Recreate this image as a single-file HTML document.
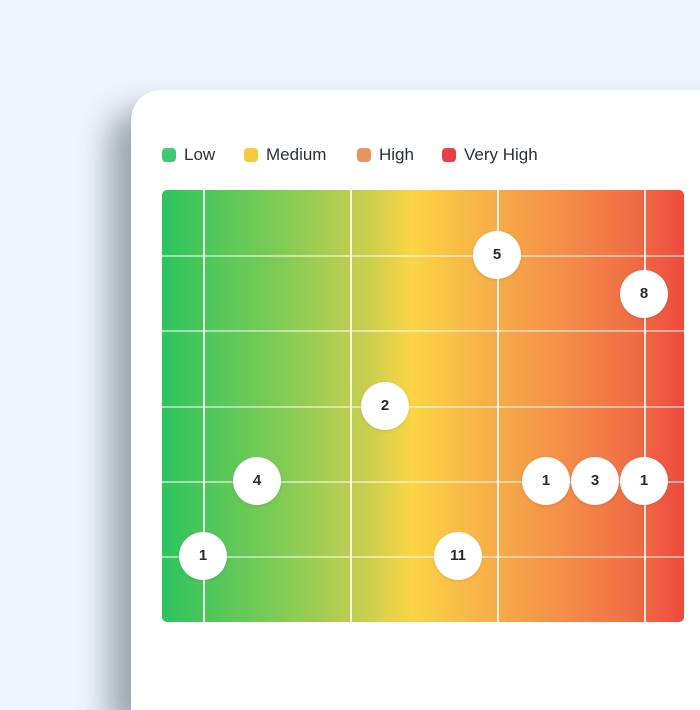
<!DOCTYPE html>
<html><head><style>
body{margin:0;width:700px;height:664px;overflow:hidden;background:#eef4fd;font-family:"Liberation Sans",sans-serif;position:relative}
.card{position:absolute;left:131px;top:90px;width:620px;height:620px;background:#fff;border-radius:30px 0 0 0;box-shadow:-22px 20px 30px rgba(60,70,85,0.45)}
.leg{position:absolute;top:145px;font-size:17px;color:#2a2f3a;display:flex;align-items:center}
.leg i{display:inline-block;width:14px;height:14px;border-radius:4px;margin-right:8px}
.chart{position:absolute;left:162px;top:190px;width:522px;height:432px;border-radius:5px;overflow:hidden;
background:linear-gradient(90deg,#2dc45e 0%,#7ecb55 22%,#c8cf4f 39%,#fbd545 48%,#f8b348 61%,#f38b48 78%,#f06e45 90%,#ee4a3e 100%)}
.v{position:absolute;top:0;bottom:0;width:1.5px;background:rgba(255,255,255,.85)}
.h{position:absolute;left:0;right:0;height:1.5px;background:rgba(255,255,255,.5)}
.b{position:absolute;width:48px;height:48px;margin:-24px 0 0 -24px;border-radius:50%;background:#fff;text-align:center;line-height:48px;font-size:15px;font-weight:bold;color:#2a2a2a;box-shadow:0 1px 3px rgba(0,0,0,.1)}
</style></head><body>
<div class="card"></div>
<div class="leg" style="left:162px"><i style="background:#3fcb73"></i>Low</div>
<div class="leg" style="left:244px"><i style="background:#f7cb3c"></i>Medium</div>
<div class="leg" style="left:357px"><i style="background:#ea9460"></i>High</div>
<div class="leg" style="left:442px"><i style="background:#ea3f46"></i>Very High</div>
<div class="chart">
<div class="v" style="left:41px"></div><div class="v" style="left:188px"></div><div class="v" style="left:335px"></div><div class="v" style="left:482px"></div>
<div class="h" style="top:65px"></div><div class="h" style="top:140px"></div><div class="h" style="top:216px"></div><div class="h" style="top:291px"></div><div class="h" style="top:366px"></div>
</div>
<div class="b" style="left:497px;top:255px">5</div>
<div class="b" style="left:644px;top:294px">8</div>
<div class="b" style="left:385px;top:406px">2</div>
<div class="b" style="left:257px;top:481px">4</div>
<div class="b" style="left:546px;top:481px">1</div>
<div class="b" style="left:595px;top:481px">3</div>
<div class="b" style="left:644px;top:481px">1</div>
<div class="b" style="left:203px;top:556px">1</div>
<div class="b" style="left:458px;top:556px">11</div>
</body></html>
